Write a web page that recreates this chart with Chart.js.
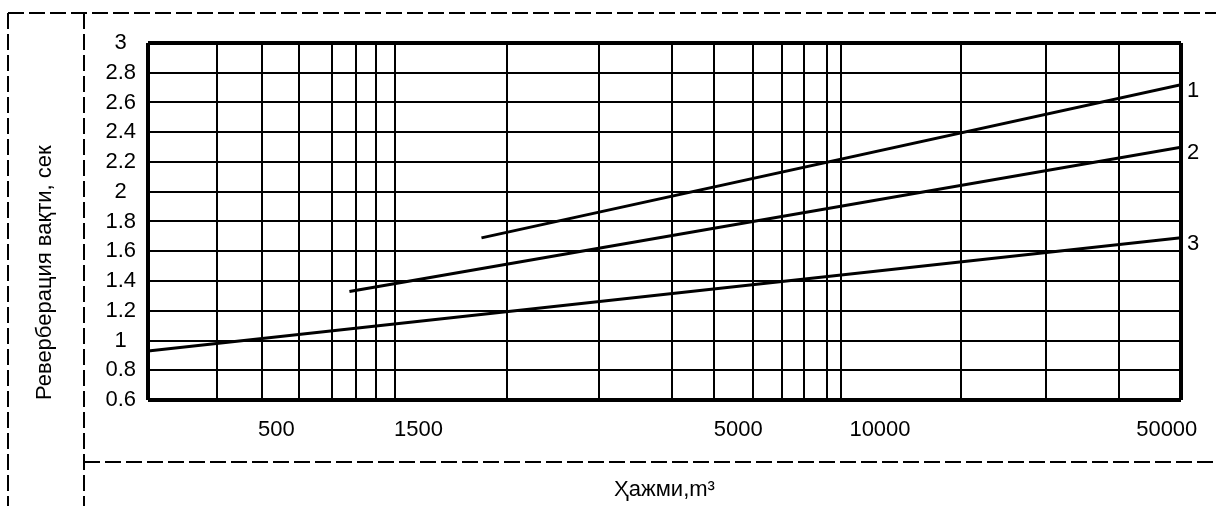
<!DOCTYPE html>
<html>
<head>
<meta charset="UTF-8">
<title>Реверберация вақти</title>
<script src="https://cdn.jsdelivr.net/npm/chart.js"></script>
<style>
    body { margin: 0; background: #fff; }
    canvas { display: block; }
</style>
</head>
<body>
<canvas id="chart" width="1216" height="506"></canvas>
<script>
    // x axis: volume, m3 (log paper)
    var xMin = 260;
    var xMax = 50000;
    var gridX = [370, 465, 560, 665, 750, 830, 915, 1620, 2580, 3740, 4630, 5650, 6550, 7330, 8240, 8850, 16300, 25100, 36500];
    var xTickValues = [500, 1030, 5250, 10800, 46500];
    var xTickLabels = ['500', '1500', '5000', '10000', '50000'];

    // y axis: reverberation time, sec
    var yTicks = [0.6, 0.8, 1, 1.2, 1.4, 1.6, 1.8, 2, 2.2, 2.4, 2.6, 2.8, 3];
    var yTickLabels = ['0.6', '0.8', '1', '1.2', '1.4', '1.6', '1.8', '2', '2.2', '2.4', '2.6', '2.8', '3'];

    // curves 1, 2, 3
    var seriesNames = ['1', '2', '3'];
    var volumes1 = [1420, 50000];
    var times1 = [1.69, 2.72];
    var volumes2 = [725, 50000];
    var times2 = [1.33, 2.30];
    var volumes3 = [260, 50000];
    var times3 = [0.93, 1.69];

    var FONT = '"Liberation Sans", Arial, sans-serif';
    Chart.defaults.font.family = FONT;
    Chart.defaults.color = '#000';

    function points(xs, ys) {
        return xs.map(function(x, i) { return { x: x, y: ys[i] }; });
    }

    // dashed table frame around the chart
    var framePlugin = {
        id: 'frame',
        beforeDraw: function(chart) {
            var c = chart.ctx;
            c.save();
            c.fillStyle = '#fff';
            c.fillRect(0, 0, chart.width, chart.height);
            c.strokeStyle = '#000';
            c.lineWidth = 2;
            c.setLineDash([16, 5]);
            function seg(x1, y1, x2, y2) {
                c.beginPath();
                c.moveTo(x1, y1);
                c.lineTo(x2, y2);
                c.stroke();
            }
            seg(8, 13, chart.width, 13);
            seg(8, 13, 8, chart.height);
            seg(84, 13, 84, chart.height);
            seg(84, 462, chart.width, 462);
            c.restore();
        }
    };

    // curve numbers at the right end of each line
    var endLabels = {
        id: 'endLabels',
        afterDatasetsDraw: function(chart) {
            var c = chart.ctx;
            c.save();
            c.font = '22px ' + FONT;
            c.fillStyle = '#000';
            c.textBaseline = 'middle';
            chart.data.datasets.forEach(function(ds, i) {
                var pts = chart.getDatasetMeta(i).data;
                var p = pts[pts.length - 1];
                c.fillText(ds.label, p.x + 6, p.y + 6);
            });
            c.restore();
        }
    };

    var ctx = document.getElementById('chart').getContext('2d');
    var chart = new Chart(ctx, {
        type: 'line',
        data: {
            datasets: [
                { label: seriesNames[0], data: points(volumes1, times1) },
                { label: seriesNames[1], data: points(volumes2, times2) },
                { label: seriesNames[2], data: points(volumes3, times3) }
            ]
        },
        options: {
            responsive: false,
            animation: false,
            devicePixelRatio: 1,
            layout: { padding: { left: 0, right: 35, top: 43, bottom: 0 } },
            elements: {
                line: { borderColor: '#000', borderWidth: 3, tension: 0 },
                point: { radius: 0 }
            },
            plugins: {
                legend: { display: false },
                tooltip: { enabled: false }
            },
            scales: {
                x: {
                    type: 'logarithmic',
                    position: 'bottom',
                    min: xMin,
                    max: xMax,
                    afterBuildTicks: function(s) {
                        s.ticks = [xMin].concat(gridX, [xMax]).map(function(v) { return { value: v }; });
                    },
                    ticks: { display: false },
                    grid: {
                        color: '#000',
                        drawTicks: false,
                        lineWidth: function(c) {
                            return c.tick && (c.tick.value === xMin || c.tick.value === xMax) ? 4 : 2;
                        }
                    },
                    border: { display: false },
                    afterFit: function(s) { s.height = 0; }
                },
                x2: {
                    type: 'logarithmic',
                    position: 'bottom',
                    min: xMin,
                    max: xMax,
                    afterBuildTicks: function(s) {
                        s.ticks = xTickValues.map(function(v) { return { value: v }; });
                    },
                    ticks: {
                        autoSkip: false,
                        maxRotation: 0,
                        padding: 17,
                        font: { size: 22 },
                        color: '#000',
                        callback: function(v, i) { return xTickLabels[i]; }
                    },
                    grid: { display: false, drawTicks: false },
                    border: { display: false },
                    title: {
                        display: true,
                        text: 'Ҳажми,m³',
                        font: { size: 22 },
                        color: '#000',
                        padding: { top: 0, bottom: 3 }
                    },
                    afterFit: function(s) { s.height = 106; }
                },
                y: {
                    type: 'linear',
                    min: 0.6,
                    max: 3,
                    afterBuildTicks: function(s) {
                        s.ticks = yTicks.map(function(v) { return { value: v }; });
                    },
                    ticks: {
                        autoSkip: false,
                        crossAlign: 'center',
                        padding: 12,
                        font: { size: 22 },
                        color: '#000',
                        callback: function(v, i) { return yTickLabels[i]; }
                    },
                    grid: {
                        color: '#000',
                        drawTicks: false,
                        lineWidth: function(c) {
                            return c.tick && (c.tick.value === 0.6 || c.tick.value === 3) ? 4 : 2;
                        }
                    },
                    border: { display: false },
                    title: {
                        display: true,
                        text: 'Реверберация вақти, сек',
                        align: 'start',
                        font: { size: 22 },
                        color: '#000',
                        padding: { top: 32, bottom: 0 }
                    },
                    afterFit: function(s) { s.width = 148; }
                }
            }
        },
        plugins: [framePlugin, endLabels]
    });
</script>
</body>
</html>
